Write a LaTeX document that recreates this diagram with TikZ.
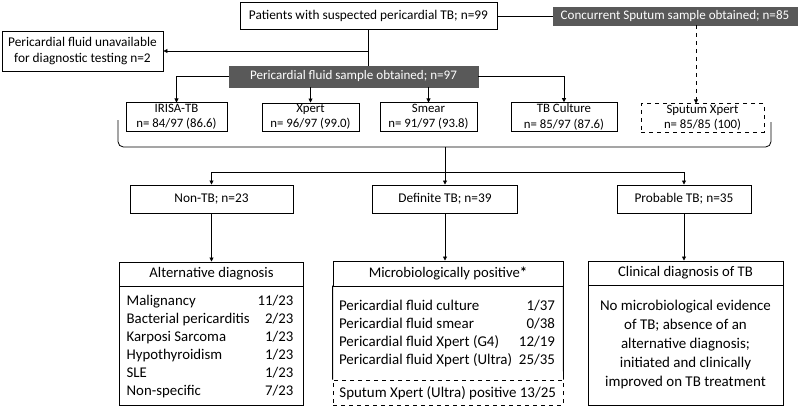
\documentclass[tikz,border=0pt]{standalone}
\usepackage{fontspec}
\setmainfont{Carlito}
\usetikzlibrary{arrows.meta}
\definecolor{boxgrey}{HTML}{595959}
\begin{document}
\begin{tikzpicture}[x=0.75pt, y=-0.75pt, line width=0.6pt,
  box/.style={draw, line width=0.7pt, inner sep=1pt, align=center, font=\fontsize{10}{12}\selectfont},
  darkbox/.style={box, draw=boxgrey, fill=boxgrey, text=white, font=\fontsize{9.8}{12}\selectfont},
  testbox/.style={box, minimum height=21pt, font=\fontsize{9.6}{11.5}\selectfont},
  groupbox/.style={box, minimum height=21pt},
  headbox/.style={box, font=\fontsize{11}{13}\selectfont},
  listbox/.style={inner sep=0pt, font=\fontsize{11.1}{13.5}\selectfont},
  microlist/.style={inner sep=0pt, font=\fontsize{11.2}{13.5}\selectfont},
  arr/.style={-{Triangle[length=3pt, width=3pt]}}]
  \useasboundingbox (0,0) rectangle (800,407);
  \node[box, minimum width=192.75pt, minimum height=20.25pt] (pts) at (368.5,16.0) {Patients with suspected pericardial TB; n=99};
  \node[darkbox, minimum width=183pt, minimum height=13.5pt] (conc) at (675.0,16.0) {Concurrent Sputum sample obtained; n=85};
  \node[box, minimum width=120.75pt, minimum height=30pt] (unav) at (82.5,51.0) {Pericardial fluid unavailable\\for diagnostic testing n=2};
  \node[darkbox, minimum width=186.75pt, minimum height=15.75pt] (pfs) at (353.5,76.5) {Pericardial fluid sample obtained; n=97};
  \node[testbox, minimum width=75.75pt] (irisa) at (176.5,117.0) {IRISA-TB\\n= 84/97 (86.6)};
  \node[testbox, minimum width=72.75pt] (xpert) at (310.5,117.0) {Xpert\\n= 96/97 (99.0)};
  \node[testbox, minimum width=72.75pt] (smear) at (428.5,117.0) {Smear\\n= 91/97 (93.8)};
  \node[testbox, minimum width=79.5pt] (cult) at (564.0,117.0) {TB Culture\\n= 85/97 (87.6)};
  \node[testbox, dashed, minimum width=92.25pt] (spx) at (702.5,118.0) {Sputum Xpert\\n= 85/85 (100)};
  \node[groupbox, minimum width=122.25pt] (nontb) at (211.5,199.0) {Non-TB; n=23};
  \node[groupbox, minimum width=108.75pt] (deftb) at (445.0,199.0) {Definite TB; n=39};
  \node[groupbox, minimum width=100.5pt] (prob) at (684.0,199.0) {Probable TB; n=35};
  \node[headbox, minimum width=138pt, minimum height=18pt] (alth) at (211.5,274.0) {Alternative diagnosis};
  \node[box, minimum width=138pt, minimum height=89.25pt] (altb) at (211.5,345.5) {};
  \node[listbox] (altl) at (210.0,347.0) {\begin{tabular*}{125pt}{@{}l@{\extracolsep{\fill}}r@{}}
    Malignancy & 11/23\\ Bacterial pericarditis & 2/23\\ Karposi Sarcoma & 1/23\\
    Hypothyroidism & 1/23\\ SLE & 1/23\\ Non-specific & 7/23\end{tabular*}};
  \node[headbox, minimum width=172.5pt, minimum height=18.75pt] (mich) at (448.0,273.5) {Microbiologically positive\textbf{*}};
  \node[minimum width=172.5pt, minimum height=70.5pt, inner sep=0pt] (micb) at (448.0,333.0) {};
  \node[microlist] (micl) at (447.0,334.0) {\begin{tabular*}{162pt}{@{}l@{\extracolsep{\fill}}r@{}}
    Pericardial fluid culture & 1/37\\ Pericardial fluid smear & 0/38\\
    Pericardial fluid Xpert (G4) & 12/19\\ Pericardial fluid Xpert (Ultra) & 25/35\end{tabular*}};
  \node[box, dashed, minimum width=172.5pt, minimum height=18.75pt] (spd) at (448.0,392.5) {};
  \node[microlist, anchor=west] (spdt) at (339.0,393.0) {Sputum Xpert (Ultra) positive 13/25};
  \draw[line width=0.7pt] (spd.north west) -- (micb.north west) (spd.north east) -- (micb.north east);
  \node[headbox, minimum width=146.25pt, minimum height=18pt] (clh) at (685.5,273.0) {Clinical diagnosis of TB};
  \node[box, minimum width=146.25pt, minimum height=90pt, font=\fontsize{11.2}{14.25}\selectfont] (clb) at (685.5,345.0) {No microbiological evidence\\of TB; absence of an\\alternative diagnosis;\\initiated and clinically\\improved on TB treatment};
  \coordinate (sa) at (696,0);
  \coordinate (bl) at (118,120);
  \coordinate (br) at (771,122);
  \coordinate (bm) at (445,147);
  \coordinate (hub) at (445,172);
  \draw (pts.east) -- (conc.west);
  \draw (pts.south) -- (pts.south |- pfs.north);
  \draw[arr] (pts.south |- unav.east) -- (unav.east);
  \draw[arr] (pfs.west) -| (irisa.north);
  \draw[arr] (pfs.east) -| (cult.north);
  \draw[arr] (pfs.south -| xpert.north) -- (xpert.north);
  \draw[arr] (pfs.south -| smear.north) -- (smear.north);
  \draw[arr, dashed] (conc.south -| sa) -- (spx.north -| sa);
  \draw[rounded corners=4pt] (bl) |- (bm) -| (br);
  \draw (bm) -- (hub);
  \draw (hub -| nontb.north) -- (hub -| prob.north);
  \draw[arr] (hub -| nontb.north) -- (nontb.north);
  \draw[arr] (hub) -- (deftb.north);
  \draw[arr] (hub -| prob.north) -- (prob.north);
  \draw[arr] (nontb.south) -- (nontb.south |- alth.north);
  \draw[arr] (deftb.south) -- (deftb.south |- mich.north);
  \draw[arr] (prob.south) -- (prob.south |- clh.north);
\end{tikzpicture}
\end{document}
